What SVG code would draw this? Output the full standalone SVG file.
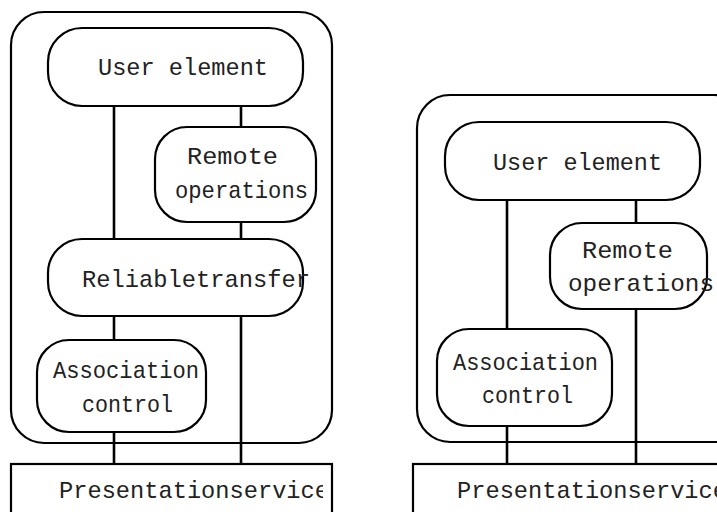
<svg xmlns="http://www.w3.org/2000/svg" width="717" height="512" viewBox="0 0 717 512">
<style>
.b{fill:none;stroke:#000;stroke-width:2.2}
.n{fill:#fff;stroke:#000;stroke-width:2.2}
.c{stroke:#000;stroke-width:2.6;fill:none}
text{font-family:"Liberation Mono","Courier New",monospace;font-size:24px;fill:#222}
</style>
<defs>
<clipPath id="clipL"><rect x="0" y="440" width="323" height="72"/></clipPath>
</defs>
<rect width="717" height="512" fill="#fff"/>
<g id="connectors">
<line class="c" x1="114" y1="106" x2="114" y2="239"/>
<line class="c" x1="241" y1="106" x2="241" y2="127"/>
<line class="c" x1="241" y1="222" x2="241" y2="239"/>
<line class="c" x1="114" y1="316" x2="114" y2="340"/>
<line class="c" x1="241" y1="316" x2="241" y2="464"/>
<line class="c" x1="114" y1="432" x2="114" y2="464"/>
<line class="c" x1="507" y1="200" x2="507" y2="329"/>
<line class="c" x1="636" y1="200" x2="636" y2="223"/>
<line class="c" x1="636" y1="309" x2="636" y2="464"/>
<line class="c" x1="507" y1="426" x2="507" y2="464"/>
</g>
<g id="left-container"><rect class="b" x="11" y="12" width="321" height="431" rx="33"/></g>
<g id="left-user-element">
<rect class="n" x="48" y="28" width="255" height="78" rx="34"/>
<text x="98" y="75" textLength="170" lengthAdjust="spacingAndGlyphs">User element</text>
</g>
<g id="left-remote-operations">
<rect class="n" x="155" y="127" width="161" height="95" rx="32"/>
<text x="187" y="164" textLength="91" lengthAdjust="spacingAndGlyphs">Remote</text>
<text x="175" y="198" textLength="133" lengthAdjust="spacingAndGlyphs">operations</text>
</g>
<g id="left-reliable-transfer">
<rect class="n" x="48" y="239" width="255" height="77" rx="34"/>
<text x="82" y="287" textLength="228" lengthAdjust="spacingAndGlyphs">Reliabletransfer</text>
</g>
<g id="left-association-control">
<rect class="n" x="37" y="340" width="169" height="92" rx="32"/>
<text x="53" y="378" textLength="146" lengthAdjust="spacingAndGlyphs">Association</text>
<text x="82" y="412" textLength="91" lengthAdjust="spacingAndGlyphs">control</text>
</g>
<g id="left-presentation-service">
<rect class="b" x="11" y="464" width="321" height="60"/>
<text x="59" y="498" textLength="270" lengthAdjust="spacingAndGlyphs" clip-path="url(#clipL)">Presentationservice</text>
</g>
<g id="right-container"><rect class="b" x="417" y="95" width="330" height="347" rx="33"/></g>
<g id="right-user-element">
<rect class="n" x="445" y="122" width="255" height="78" rx="34"/>
<text x="493" y="170" textLength="169" lengthAdjust="spacingAndGlyphs">User element</text>
</g>
<g id="right-remote-operations">
<rect class="n" x="550" y="223" width="157" height="86" rx="32"/>
<text x="582" y="258" textLength="91" lengthAdjust="spacingAndGlyphs">Remote</text>
<text x="568" y="291" textLength="146" lengthAdjust="spacingAndGlyphs">operations</text>
</g>
<g id="right-association-control">
<rect class="n" x="437" y="329" width="175" height="97" rx="32"/>
<text x="453" y="370" textLength="145" lengthAdjust="spacingAndGlyphs">Association</text>
<text x="482" y="403" textLength="91" lengthAdjust="spacingAndGlyphs">control</text>
</g>
<g id="right-presentation-service">
<rect class="b" x="413" y="464" width="340" height="60"/>
<text x="457" y="498" textLength="270" lengthAdjust="spacingAndGlyphs">Presentationservice</text>
</g>
</svg>
